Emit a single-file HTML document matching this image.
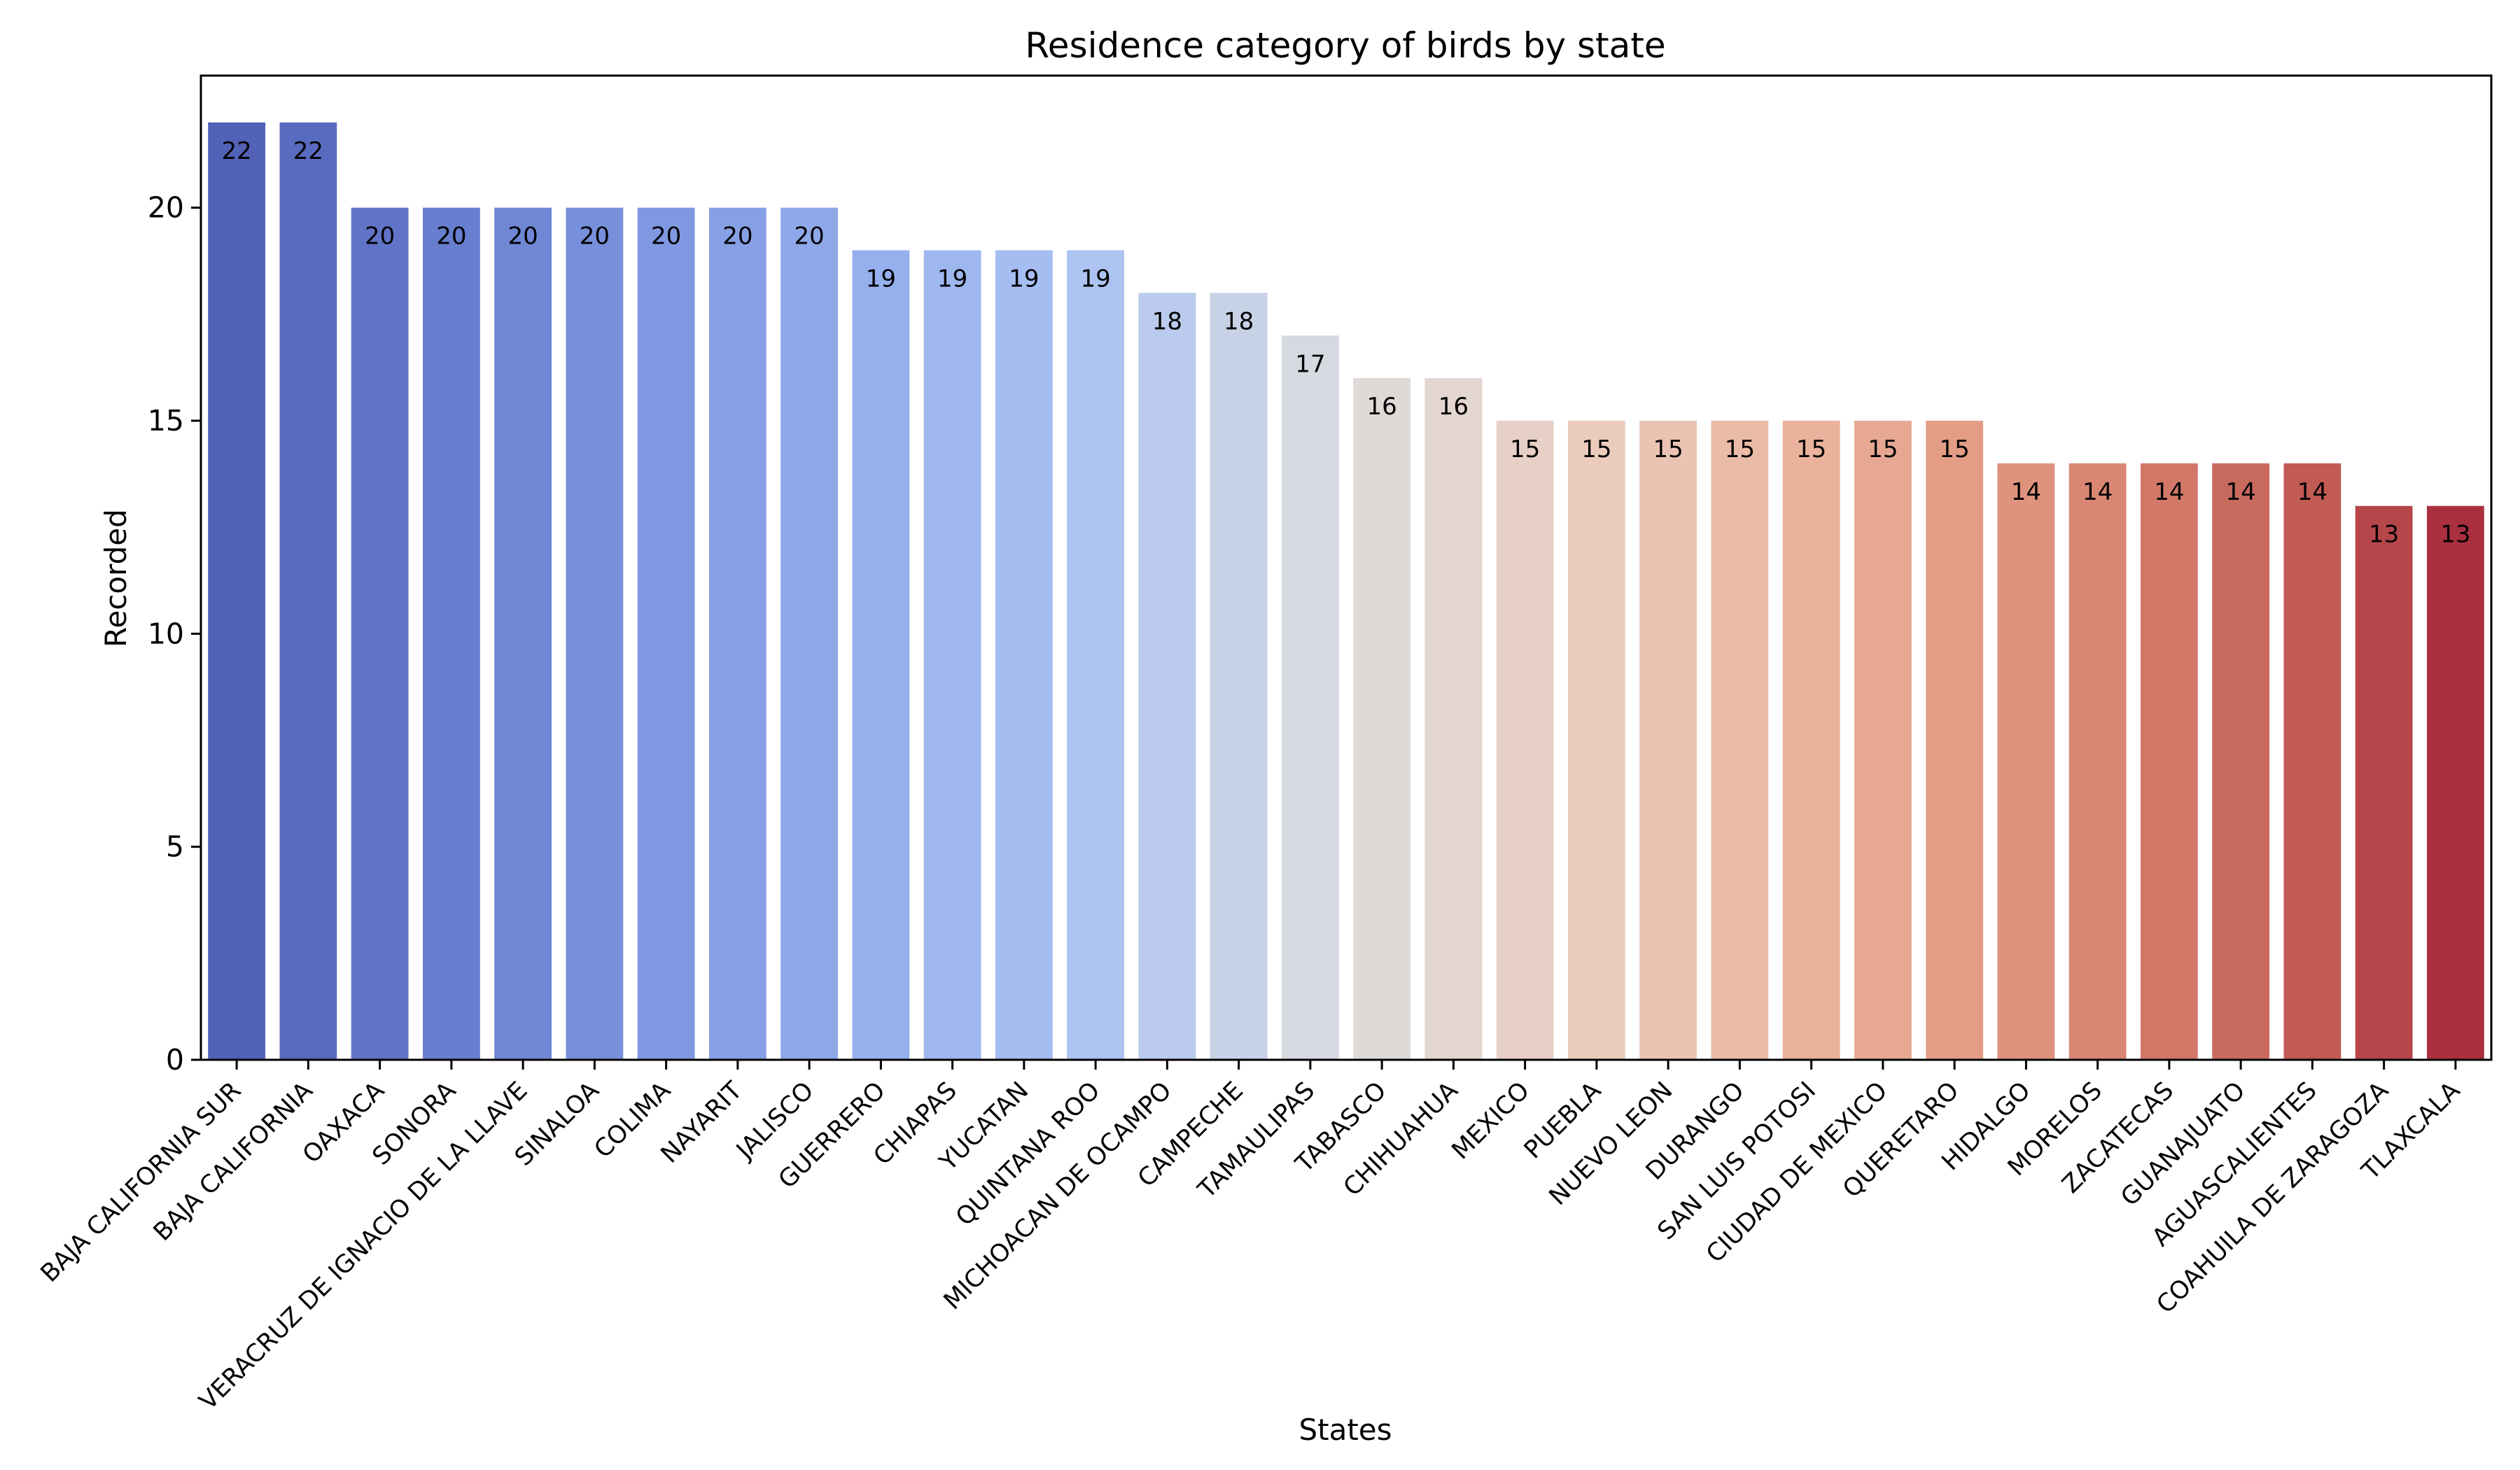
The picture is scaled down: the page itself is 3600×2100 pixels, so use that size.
<!DOCTYPE html>
<html><head><meta charset="utf-8"><style>
html,body{margin:0;padding:0;background:#fff}
svg{display:block;font-family:"DejaVu Sans","Liberation Sans",sans-serif}
</style></head><body>
<svg id="chart" width="3600" height="2100" viewBox="0 0 3600 2100" xmlns="http://www.w3.org/2000/svg">
<rect width="3600" height="2100" fill="#fff"/>
<text x="1922" y="82" text-anchor="middle" font-size="50">Residence category of birds by state</text>
<text x="1922" y="2057" text-anchor="middle" font-size="42">States</text>
<text transform="translate(180,826) rotate(-90)" text-anchor="middle" font-size="42">Recorded</text>
<g id="bars"></g><g id="ticks"></g>
<rect x="287" y="108" width="3272" height="1406" fill="none" stroke="#000" stroke-width="3"/>
</svg>
<script>
const categories = ["BAJA CALIFORNIA SUR","BAJA CALIFORNIA","OAXACA","SONORA","VERACRUZ DE IGNACIO DE LA LLAVE","SINALOA","COLIMA","NAYARIT","JALISCO","GUERRERO","CHIAPAS","YUCATAN","QUINTANA ROO","MICHOACAN DE OCAMPO","CAMPECHE","TAMAULIPAS","TABASCO","CHIHUAHUA","MEXICO","PUEBLA","NUEVO LEON","DURANGO","SAN LUIS POTOSI","CIUDAD DE MEXICO","QUERETARO","HIDALGO","MORELOS","ZACATECAS","GUANAJUATO","AGUASCALIENTES","COAHUILA DE ZARAGOZA","TLAXCALA"];
const recorded = [22,22,20,20,20,20,20,20,20,19,19,19,19,18,18,17,16,16,15,15,15,15,15,15,15,14,14,14,14,14,13,13];
const yTicks = [0,5,10,15,20];

const NS="http://www.w3.org/2000/svg";
const L=287,R=3559,T=108,B=1514;
const yMax=Math.max(...recorded)*1.05;
const slot=(R-L)/categories.length;
const xC=i=>L+slot*(i+0.5);
const y=v=>B-(v/yMax)*(B-T);
const stops=[[0,[59,76,192]],[.1,[81,109,219]],[.2,[107,141,240]],[.3,[135,169,252]],[.4,[163,194,254]],[.5,[221,220,220]],[.6,[242,203,183]],[.7,[247,172,142]],[.8,[238,132,104]],[.9,[214,82,68]],[1,[180,4,38]]];
function cmap(t){for(let k=0;k<stops.length-1;k++){const[a,ca]=stops[k],[b,cb]=stops[k+1];if(t<=b){const f=(t-a)/(b-a);return ca.map((c,j)=>c+(cb[j]-c)*f);}}return stops[10][1];}
function desat(c,p){let[r,g,b]=c.map(v=>v/255);const mx=Math.max(r,g,b),mn=Math.min(r,g,b),l=(mx+mn)/2;let h=0,s=0;if(mx!==mn){const d=mx-mn;s=l>.5?d/(2-mx-mn):d/(mx+mn);if(mx===r)h=(g-b)/d+(g<b?6:0);else if(mx===g)h=(b-r)/d+2;else h=(r-g)/d+4;h/=6;}s*=p;const q=l<.5?l*(1+s):l+s-l*s,pp=2*l-q;const hue=t=>{if(t<0)t+=1;if(t>1)t-=1;if(t<1/6)return pp+(q-pp)*6*t;if(t<1/2)return q;if(t<2/3)return pp+(q-pp)*(2/3-t)*6;return pp;};return [hue(h+1/3),hue(h),hue(h-1/3)].map(v=>Math.round(v*255));}
const bars=document.getElementById('bars'),ticks=document.getElementById('ticks');
const n=categories.length;
recorded.forEach((v,i)=>{
  const c=desat(cmap((i+1)/(n+1)),0.75);
  const r=document.createElementNS(NS,'rect');
  r.setAttribute('x',xC(i)-slot*0.4);r.setAttribute('width',slot*0.8);
  r.setAttribute('y',y(v));r.setAttribute('height',B-y(v));
  r.setAttribute('fill',`rgb(${c.join(',')})`);
  
  
  bars.appendChild(r);
  const t=document.createElementNS(NS,'text');
  t.setAttribute('x',xC(i));t.setAttribute('y',y(v)+52);
  t.setAttribute('text-anchor','middle');t.setAttribute('font-size','34');
  t.textContent=v;
  
  
  bars.appendChild(t);
  const tk=document.createElementNS(NS,'line');
  tk.setAttribute('x1',xC(i));tk.setAttribute('x2',xC(i));tk.setAttribute('y1',B);tk.setAttribute('y2',B+14);
  tk.setAttribute('stroke','#000');tk.setAttribute('stroke-width','3');
  
  
  ticks.appendChild(tk);
  const lb=document.createElementNS(NS,'text');
  const lx=xC(i)+8,ly=B+46;
  lb.setAttribute('x',lx);lb.setAttribute('y',ly);
  lb.setAttribute('transform',`rotate(-45 ${lx} ${ly})`);
  lb.setAttribute('text-anchor','end');lb.setAttribute('font-size','35');
  lb.textContent=categories[i];
  
  
  ticks.appendChild(lb);
});
yTicks.forEach(v=>{
  const tk=document.createElementNS(NS,'line');
  tk.setAttribute('x1',L-14);tk.setAttribute('x2',L);tk.setAttribute('y1',y(v));tk.setAttribute('y2',y(v));
  tk.setAttribute('stroke','#000');tk.setAttribute('stroke-width','3');
  
  
  ticks.appendChild(tk);
  const t=document.createElementNS(NS,'text');
  t.setAttribute('x',L-24);t.setAttribute('y',y(v)+14);
  t.setAttribute('text-anchor','end');t.setAttribute('font-size','41');
  t.textContent=v;
  
  
  ticks.appendChild(t);
});
</script>
</body></html>
